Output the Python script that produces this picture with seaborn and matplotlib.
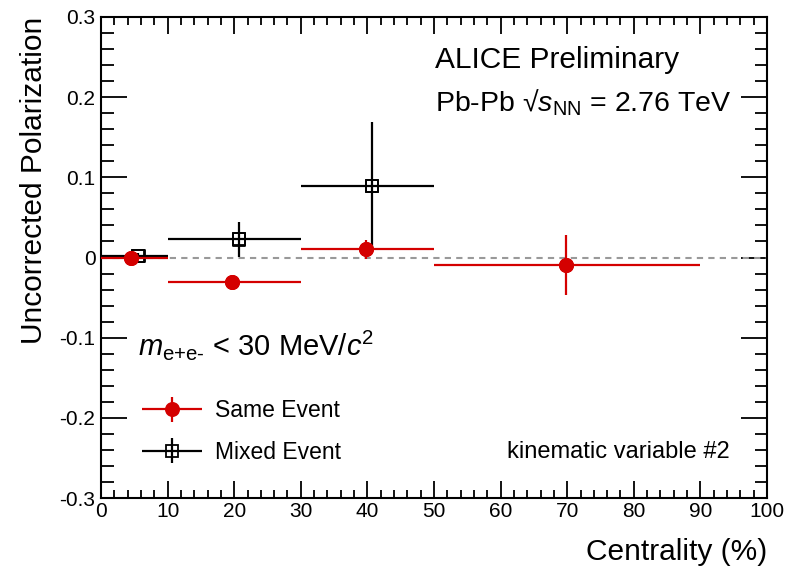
import matplotlib
matplotlib.use("Agg")
import matplotlib.pyplot as plt
import seaborn as sns
import numpy as np
import pandas as pd
from matplotlib.ticker import MultipleLocator, FuncFormatter
from matplotlib.legend_handler import HandlerErrorbar

# Data
same_x = [4.5, 19.7, 39.8, 69.8]
same_y = [0.0, -0.031, 0.010, -0.0095]
same_xlo = [0, 10, 30, 50]
same_xhi = [10, 30, 50, 90]
same_yerr = [0.004, 0.003, 0.012, 0.037]

mixed_x = [5.6, 20.7, 40.7]
mixed_y = [0.002, 0.0225, 0.089]
mixed_xlo = [0, 10, 30]
mixed_xhi = [10, 30, 50]
mixed_yerr = [0.003, 0.022, 0.080]

sns.set_theme(style="ticks")
plt.rcParams['font.family'] = ['Liberation Sans', 'DejaVu Sans']
plt.rcParams['mathtext.fontset'] = 'custom'
plt.rcParams['mathtext.rm'] = 'Liberation Sans'
plt.rcParams['mathtext.it'] = 'Liberation Sans:italic'
plt.rcParams['text.color'] = 'black'
plt.rcParams['axes.labelcolor'] = 'black'

fig = plt.figure(figsize=(7.92, 5.70), dpi=100)
ax = fig.add_axes([101/792, 72/570, 666/792, 481/570])

ax.axhline(0, color='#999999', ls=(0, (3, 2.5)), lw=1.5, zorder=1)

def draw(xs, ys, lo, hi, yerr, color, marker, mfc, ms, label, z):
    xerr = [np.array(xs) - np.array(lo), np.array(hi) - np.array(xs)]
    h = ax.errorbar(xs, ys, xerr=xerr, yerr=yerr, fmt=marker, color=color,
                    mfc=mfc, mec=color, ms=ms, mew=1.3,
                    elinewidth=1.6, capsize=0, zorder=z, label=label)
    df = pd.DataFrame({'x': xs, 'y': ys})
    sns.scatterplot(data=df, x='x', y='y', ax=ax, marker=marker, s=ms**2,
                    facecolor=mfc, edgecolor=color, linewidth=1.3, zorder=z + 0.5,
                    legend=False)
    return h

hm = draw(mixed_x, mixed_y, mixed_xlo, mixed_xhi, mixed_yerr, 'black', 's', 'none', 9, 'Mixed Event', 3)
hs = draw(same_x, same_y, same_xlo, same_xhi, same_yerr, '#d40000', 'o', '#d40000', 9.5, 'Same Event', 5)

leg = ax.legend(handles=[hs, hm], loc='center left', bbox_to_anchor=(0.0616, 0.138),
                frameon=False, fontsize=16.5, handlelength=2.6, labelspacing=0.8,
                handletextpad=0.6, borderpad=0, borderaxespad=0,
                handler_map={type(hs): HandlerErrorbar(xerr_size=1.3, yerr_size=0.55)})

ax.set_xlim(0, 100)
ax.set_ylim(-0.3, 0.3)
ax.xaxis.set_major_locator(MultipleLocator(10))
ax.xaxis.set_minor_locator(MultipleLocator(2))
ax.yaxis.set_major_locator(MultipleLocator(0.1))
ax.yaxis.set_minor_locator(MultipleLocator(0.02))

def yfmt(v, pos):
    if abs(v) < 1e-9:
        return '0'
    return ('%.1f' % v)
ax.yaxis.set_major_formatter(FuncFormatter(yfmt))

ax.tick_params(which='both', direction='in', top=True, right=True, width=1.3,
               colors='black', labelsize=15)
ax.tick_params(axis='x', which='major', length=12, pad=3)
ax.tick_params(axis='x', which='minor', length=6)
ax.tick_params(axis='y', which='major', length=19, pad=4)
ax.tick_params(axis='y', which='minor', length=9)
for s in ax.spines.values():
    s.set_linewidth(1.5)
    s.set_color('black')

ax.set_xlabel('Centrality (%)', fontsize=21.5, loc='right', labelpad=12)
ax.set_ylabel('Uncorrected Polarization', fontsize=21.5, loc='top', labelpad=8)

def ftext(px, py, s, **kw):
    fig.text(px/792, 1 - py/570, s, va='center', **kw)

ftext(435, 60, 'ALICE Preliminary', fontsize=21.5, ha='left')
ftext(435, 103, 'Pb-Pb \u221a$s_{\\mathrm{NN}}$ = 2.76 TeV', fontsize=20.5, ha='left')
ftext(138, 345, r'$m_{\text{e+e-}}$ < 30 MeV/$c^{2}$', fontsize=21, ha='left')
ftext(730, 452, 'kinematic variable #2', fontsize=17, ha='right')

fig.savefig('out.png', dpi=100)
